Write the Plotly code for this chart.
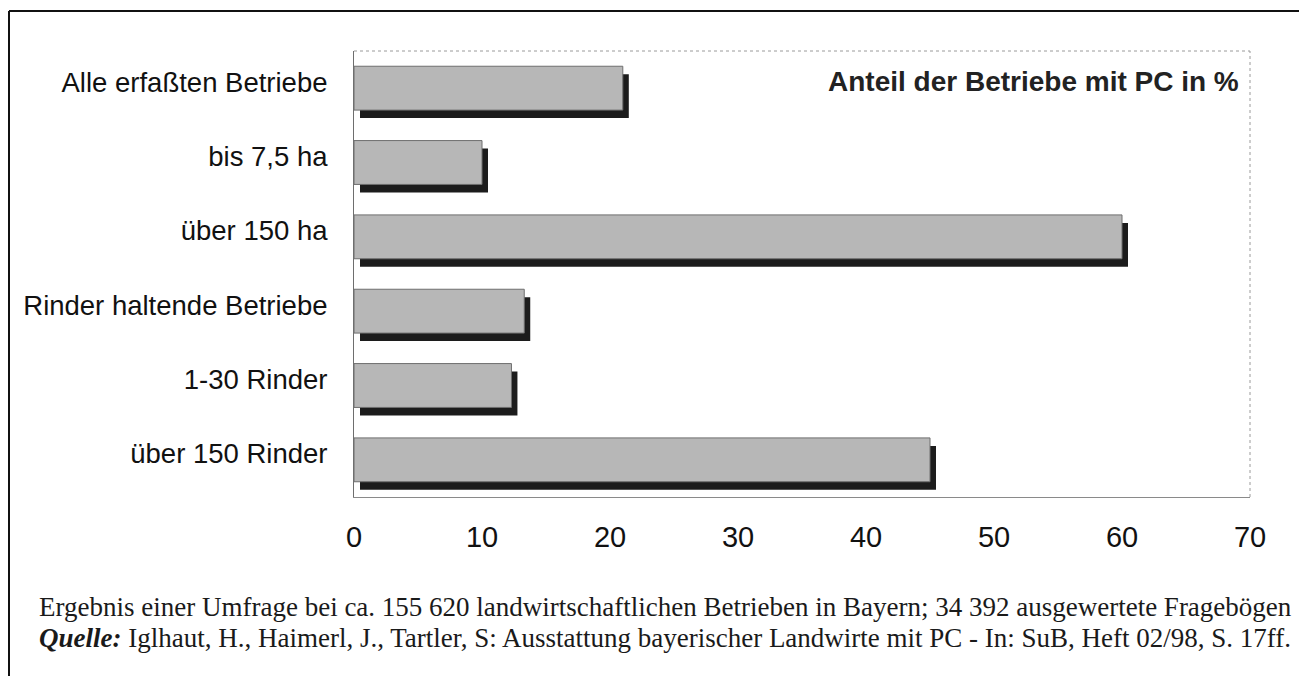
import plotly.graph_objects as go

categories = ["Alle erfaßten Betriebe", "bis 7,5 ha", "über 150 ha",
              "Rinder haltende Betriebe", "1-30 Rinder", "über 150 Rinder"]
values = [21.0, 10.0, 60.0, 13.3, 12.3, 45.0]
x_ticks = [0, 10, 20, 30, 40, 50, 60, 70]
title_text = "Anteil der Betriebe mit PC in %"
caption_1 = "Ergebnis einer Umfrage bei ca. 155 620 landwirtschaftlichen Betrieben in Bayern; 34 392 ausgewertete Fragebögen"
caption_2 = "<b><i>Quelle:</i></b> Iglhaut, H., Haimerl, J., Tartler, S: Ausstattung bayerischer Landwirte mit PC - In: SuB, Heft 02/98, S. 17ff."

# page offset caused by the default body margin of the html page
OFF = 8
W, H = 1307 - OFF, 684 - 2 * OFF
# plot area in page pixels: x 354..1250, y 51..497
L = 354 - OFF
T = 51 - OFF
R = W - (1250 - OFF)
B = H - (497 - OFF)
pw, ph = W - L - R, H - T - B
xmax = 70
px_per_unit = pw / xmax
slot = ph / len(categories)
bw = 0.59
sx = 6 / px_per_unit      # shadow shift right
sy = 8 / slot             # shadow shift down

SANS = "Liberation Sans, Arial, sans-serif"
SERIF = "Liberation Serif, Times New Roman, serif"

def px(xp):   # page x -> paper
    return (xp - OFF - L) / pw

def py(yp):   # page y -> paper
    return (H - B - (yp - OFF)) / ph

fig = go.Figure()
fig.add_trace(go.Bar(
    y=categories, x=values, base=sx, orientation="h", width=bw,
    offset=-bw / 2 + sy, marker=dict(color="#1c1c1c", line=dict(width=0)),
    hoverinfo="skip", showlegend=False))
fig.add_trace(go.Bar(
    y=categories, x=values, orientation="h", width=bw, offset=-bw / 2,
    marker=dict(color="#b7b7b7", line=dict(color="#6e6e6e", width=1)),
    showlegend=False))

fig.update_layout(
    width=W, height=H, barmode="overlay",
    margin=dict(l=L, r=R, t=T, b=B, pad=0),
    paper_bgcolor="white", plot_bgcolor="white",
    font=dict(family=SANS, color="#111111"),
    xaxis=dict(range=[0, xmax], tickvals=x_ticks, showgrid=False, zeroline=False,
               showline=True, linecolor="#8a8a8a", linewidth=1, ticks="",
               tickfont=dict(size=29, family=SANS),
               ticklabelstandoff=14, fixedrange=True, automargin=False),
    yaxis=dict(categoryorder="array", categoryarray=categories,
               range=[len(categories) - 0.5, -0.5], showgrid=False, zeroline=False,
               showline=True, linecolor="#6e6e6e", linewidth=1, ticks="",
               tickfont=dict(size=27.5, family=SANS),
               ticklabelstandoff=20, ticklabelshift=6,
               fixedrange=True, automargin=False),
)

shapes = [
    dict(type="line", xref="paper", yref="paper", x0=0, x1=1, y0=1, y1=1,
         line=dict(color="#9a9a9a", width=1, dash="dot")),
    dict(type="line", xref="paper", yref="paper", x0=1, x1=1, y0=0, y1=1,
         line=dict(color="#9a9a9a", width=1, dash="dot")),
    dict(type="line", xref="paper", yref="paper", x0=px(9), x1=px(1320), y0=py(11), y1=py(11),
         line=dict(color="#111111", width=2)),
    dict(type="line", xref="paper", yref="paper", x0=px(9), x1=px(9), y0=py(11), y1=py(700),
         line=dict(color="#111111", width=2)),
]
fig.update_layout(shapes=shapes)

fig.add_annotation(text="<b>" + title_text + "</b>", xref="paper", yref="paper",
                   x=px(1241), y=py(82), xanchor="right", yanchor="middle", showarrow=False,
                   font=dict(size=28, family=SANS, color="#222222"))
fig.add_annotation(text=caption_1, xref="paper", yref="paper",
                   x=px(37), y=py(607), xanchor="left", yanchor="middle", showarrow=False,
                   font=dict(size=27, family=SERIF, color="#1a1a1a"))
fig.add_annotation(text=caption_2, xref="paper", yref="paper",
                   x=px(37), y=py(638), xanchor="left", yanchor="middle", showarrow=False,
                   font=dict(size=27, family=SERIF, color="#1a1a1a"))

fig.write_html("out.html")
